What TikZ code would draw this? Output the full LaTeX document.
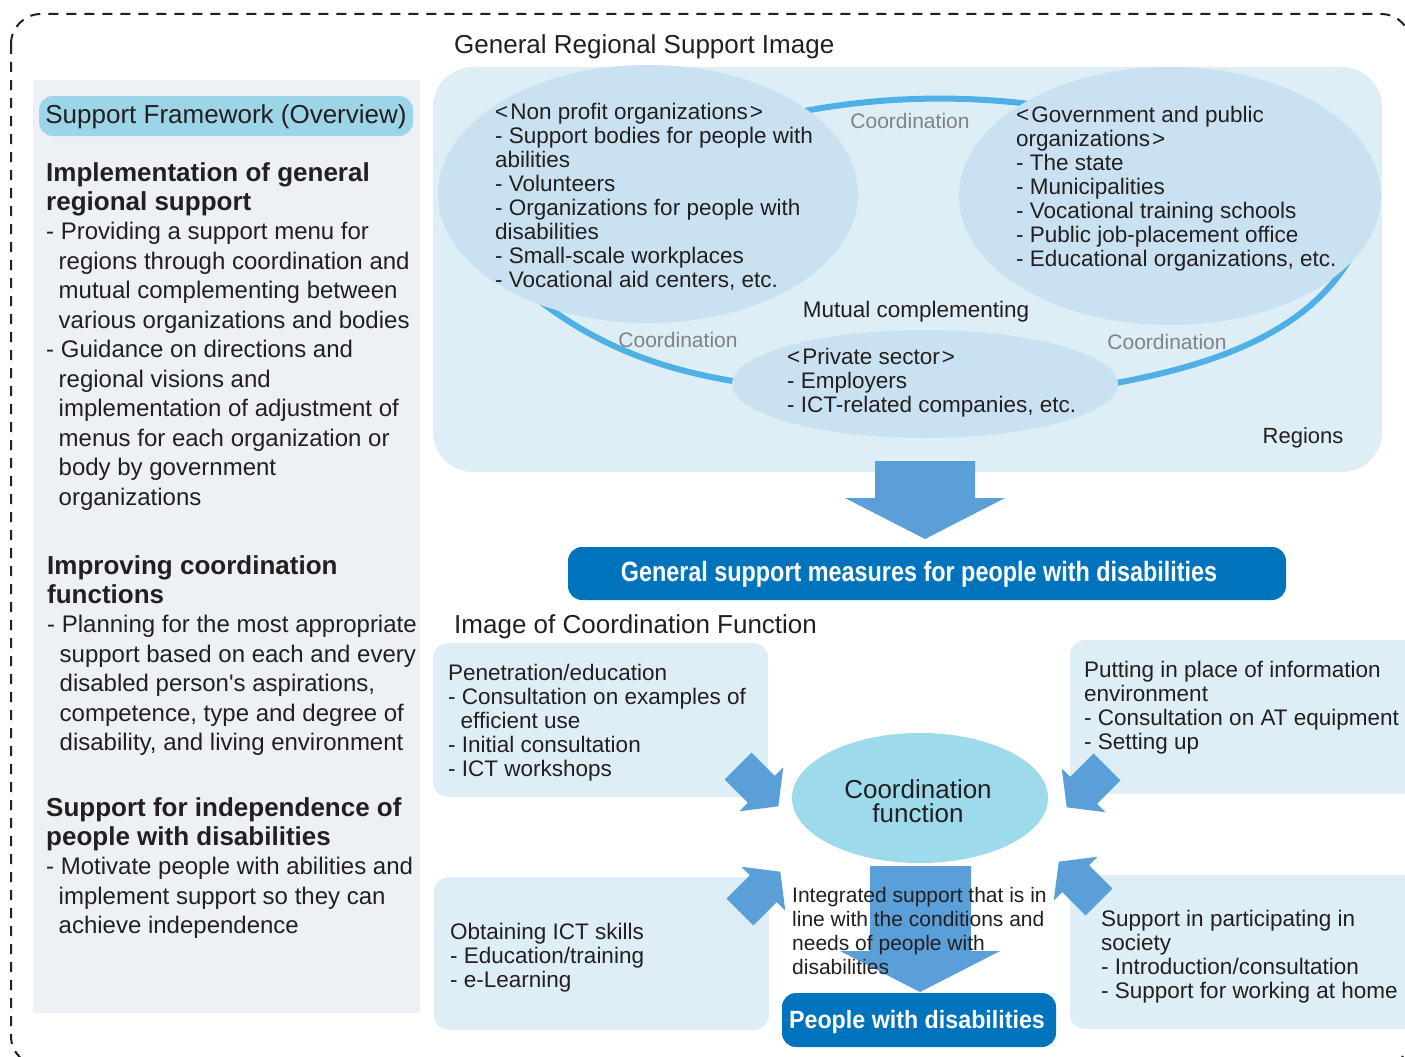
\documentclass[tikz,border=0pt]{standalone}
\usepackage{fontspec}
\setmainfont{Liberation Sans}
\newfontfamily\condfont[FakeStretch=0.835]{Liberation Sans}
\newfontfamily\condfontb[FakeStretch=0.93]{Liberation Sans}
\newcommand\fsz[2]{\fontsize{#1}{#2}\selectfont}
\newcommand\ind{\hspace*{12.5pt}}
\definecolor{txtc}{HTML}{231F20}
\definecolor{panelc}{HTML}{EDF1F5}
\definecolor{pillc}{HTML}{9CD5E7}
\definecolor{regc}{HTML}{DDEEF7}
\definecolor{ellc}{HTML}{C9E1F0}
\definecolor{arcc}{HTML}{4EB0E5}
\definecolor{arrc}{HTML}{5A9FD7}
\definecolor{barc}{HTML}{0073BD}
\definecolor{cfc}{HTML}{9CDAEC}
\definecolor{grayc}{HTML}{808285}
\tikzset{
  txt/.style={inner sep=0pt, anchor=north west, align=left, text=txtc},
  ctxt/.style={inner sep=0pt, anchor=center, align=center, text=txtc},
  coordlbl/.style={inner sep=0pt, anchor=center, text=grayc, font=\fsz{21}{24}},
  arcline/.style={draw=arcc, line width=6pt},
  blkarrow/.style={fill=arrc, draw=none},
  lightbox/.style={fill=regc, draw=none, rounded corners=15pt},
  bluebar/.style={fill=barc, draw=none, rounded corners=14pt},
}
\begin{document}
\begin{tikzpicture}[x=1pt,y=-1pt]
\useasboundingbox (0,0) rectangle (1405,1057);
% outer dashed frame
\draw[txtc, line width=2pt, dash pattern=on 10pt off 8pt, rounded corners=30pt] (11,14) rectangle (1411,1066);

% ---------- left panel ----------
\fill[panelc] (33,80) rectangle (420,1013);
\fill[pillc, rounded corners=14pt] (39,96) rectangle (413,136);
\node[ctxt, font=\fsz{26}{29}] (pill) at (226,117) {Support Framework (Overview)};
\node[txt, font=\fsz{26}{29}\bfseries] (h1) at (46,160.5) {\strut Implementation of general\\regional support};
\node[txt, font=\fsz{24}{29.5}] (b1) at (46,219) {\strut - Providing a support menu for\\
\ind regions through coordination and\\
\ind mutual complementing between\\
\ind various organizations and bodies\\
- Guidance on directions and\\
\ind regional visions and\\
\ind implementation of adjustment of\\
\ind menus for each organization or\\
\ind body by government\\
\ind organizations};
\node[txt, font=\fsz{26}{29.5}\bfseries] (h2) at (47,553.5) {\strut Improving coordination\\functions};
\node[txt, font=\fsz{24}{29.4}] (b2) at (47,612.2) {\strut - Planning for the most appropriate\\
\ind support based on each and every\\
\ind disabled person\textquotesingle s aspirations,\\
\ind competence, type and degree of\\
\ind disability, and living environment};
\node[txt, font=\fsz{26}{29}\bfseries] (h3) at (46,795.5) {\strut Support for independence of\\people with disabilities};
\node[txt, font=\fsz{24}{29.4}] (b3) at (46,854.2) {\strut - Motivate people with abilities and\\
\ind implement support so they can\\
\ind achieve independence};

% ---------- general regional support image ----------
\node[txt, anchor=base west, font=\fsz{26}{29}] (title1) at (454,53) {General Regional Support Image};
\fill[regc, rounded corners=40pt] (433,67) rectangle (1382,472);
% coordination arcs
\draw[arcline] (780,116) .. controls (870,96) and (960,94) .. (1045,106);
\draw[arcline] (520,285) .. controls (590,345) and (660,370) .. (745,383);
\draw[arcline] (1352,255) .. controls (1310,330) and (1220,365) .. (1105,385);
% ellipses
\fill[ellc] (648,194) ellipse [x radius=210, y radius=129];
\fill[ellc] (1170,196) ellipse [x radius=211, y radius=129];
\fill[ellc] (925,384) ellipse [x radius=193, y radius=54];
\node[txt, font=\fsz{22.5}{24}] (npo) at (495,102) {\strut <\kern2pt Non profit organizations\kern2pt >\\
- Support bodies for people with\\
abilities\\
- Volunteers\\
- Organizations for people with\\
disabilities\\
- Small-scale workplaces\\
- Vocational aid centers, etc.};
\node[txt, font=\fsz{22.5}{24}] (gov) at (1016,105) {\strut <\kern2pt Government and public\\
organizations\kern2pt >\\
- The state\\
- Municipalities\\
- Vocational training schools\\
- Public job-placement office\\
- Educational organizations, etc.};
\node[txt, font=\fsz{22.5}{24}] (priv) at (787,347) {\strut <\kern2pt Private sector\kern2pt >\\
- Employers\\
- ICT-related companies, etc.};
\node[ctxt, font=\fsz{22.5}{24}] (mutual) at (916,312) {Mutual complementing};
\node[ctxt, font=\fsz{22}{24}] (regions) at (1303,438) {Regions};
\node[coordlbl] (c1) at (910,121) {Coordination};
\node[coordlbl] (c2) at (678,340) {Coordination};
\node[coordlbl] (c3) at (1167,342) {Coordination};

% big down arrow
\path[blkarrow] (875,461) -- (975,461) -- (975,498) -- (1005,498) -- (925,539) -- (845,498) -- (875,498) -- cycle;
% blue bar
\fill[bluebar] (568,547) rectangle (1286,600);
\node[ctxt, text=white, font=\condfont\fsz{28}{30}\bfseries] (measures) at (919,574) {General support measures for people with disabilities};

% ---------- coordination function ----------
\node[txt, anchor=base west, font=\fsz{26}{29}] (title2) at (454,633) {Image of Coordination Function};
\fill[lightbox] (433,643) rectangle (768,797);
\fill[lightbox] (434,877) rectangle (769,1030);
\fill[lightbox] (1070,640) rectangle (1420,794);
\fill[lightbox] (1070,875) rectangle (1420,1029);
\node[txt, font=\fsz{22.5}{24}] (pen) at (448,663) {\strut Penetration/education\\
- Consultation on examples of\\
\ind efficient use\\
- Initial consultation\\
- ICT workshops};
\node[txt, font=\fsz{22.5}{24}] (ict) at (450,922) {\strut Obtaining ICT skills\\
- Education/training\\
- e-Learning};
\node[txt, font=\fsz{22.5}{24}] (info) at (1084,660) {\strut Putting in place of information\\
environment\\
- Consultation on AT equipment\\
- Setting up};
\node[txt, font=\fsz{22.5}{24}] (soc) at (1101,909) {\strut Support in participating in\\
society\\
- Introduction/consultation\\
- Support for working at home};

% central ellipse
\fill[cfc] (920,798) ellipse [x radius=128, y radius=65];
\node[ctxt, font=\fsz{26}{24}] (cf) at (918,801) {Coordination\\function};

% diagonal block arrows
\begin{scope}[shift={(738,766)}, rotate=-45]
\path[blkarrow] (0,-19) -- (33,-19) -- (33,-31) -- (57,0) -- (33,31) -- (33,19) -- (0,19) -- cycle;
\end{scope}
\begin{scope}[shift={(740,912)}, rotate=45]
\path[blkarrow] (0,-19) -- (33,-19) -- (33,-31) -- (57,0) -- (33,31) -- (33,19) -- (0,19) -- cycle;
\end{scope}
\begin{scope}[shift={(1107,767)}, rotate=-135]
\path[blkarrow] (0,-19) -- (33,-19) -- (33,-31) -- (57,0) -- (33,31) -- (33,19) -- (0,19) -- cycle;
\end{scope}
\begin{scope}[shift={(1099,902)}, rotate=135]
\path[blkarrow] (0,-19) -- (33,-19) -- (33,-31) -- (57,0) -- (33,31) -- (33,19) -- (0,19) -- cycle;
\end{scope}

% central down arrow
\path[blkarrow] (870,866) -- (971,866) -- (971,951) -- (1000,951) -- (920,992) -- (840,951) -- (870,951) -- cycle;
\node[txt, font=\fsz{21}{24}] (integ) at (792,885) {\strut Integrated support that is in\\
line with the conditions and\\
needs of people with\\
disabilities};
% people box
\fill[bluebar] (782,993) rectangle (1056,1047);
\node[ctxt, text=white, font=\condfontb\fsz{25}{28}\bfseries] (people) at (917,1022) {People with disabilities};
\end{tikzpicture}
\end{document}
